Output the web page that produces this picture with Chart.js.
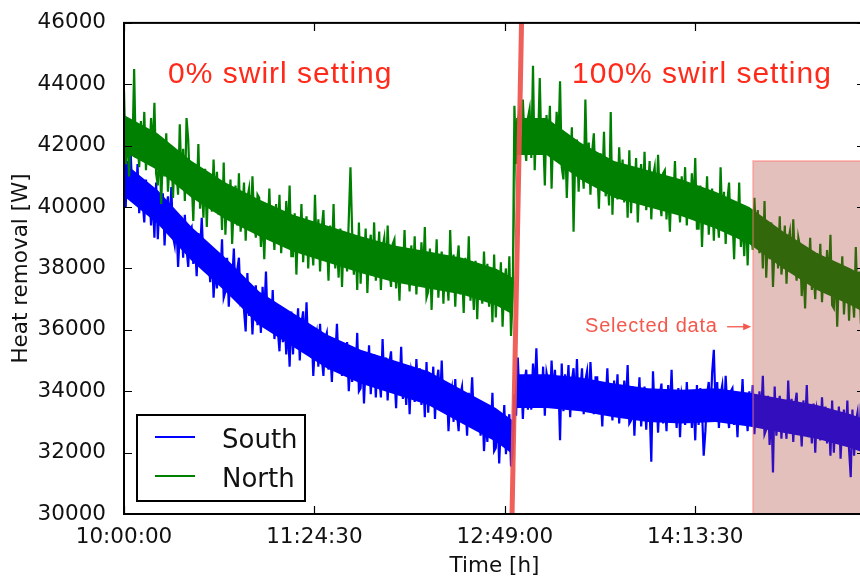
<!DOCTYPE html>
<html>
<head>
<meta charset="utf-8">
<script src="https://cdn.jsdelivr.net/npm/chart.js@4.4.1/dist/chart.umd.min.js"></script>
<style>
html, body { margin: 0; padding: 0; background: #fff; overflow: hidden; }
body { width: 860px; height: 583px; }
#wrap { width: 866px; height: 583px; }
</style>
</head>
<body>
<div id="wrap"><canvas id="chart" width="866" height="583"></canvas></div>
<script>
// seconds after 10:00:00, one sample every 45 s
var step = 45;
var tickStep = 5070;
var tickLabels = ["10:00:00", "11:24:30", "12:49:00", "14:13:30"];
var yTicks = [30000, 32000, 34000, 36000, 38000, 40000, 42000, 44000, 46000];

// heat removal [W], one row per 15 minutes
var south = [
    41100,40000,41500,40600,41700,40300,41000,40100,41400,39800,40500,40200,39500,40900,39800,40600,39400,40300,39000,40800,
    38950,40150,39450,40450,38750,39950,40350,39250,40650,39050,38750,39550,38050,39150,39450,38350,39750,38650,38050,39250,
    39350,38150,38850,37750,39150,38550,39650,38250,38750,37950,38450,37550,38650,37050,38050,37350,38450,37650,38950,37050,
    37250,38350,36750,38050,37550,38650,37050,37950,38350,36950,37150,36650,35950,37850,36450,37250,35850,37050,37450,36150,
    37000,35900,37400,36500,37900,36200,36900,36000,37300,35700,36300,36000,35300,36700,35600,36400,35200,36100,34800,36600,
    35200,36400,35700,36700,35000,36200,36600,35500,36900,35300,35200,36000,34500,35600,35900,34800,36200,35100,34500,35700,
    35900,34700,35400,34300,35700,35100,36200,34800,35300,34500,35400,34500,35600,34000,35000,34300,35400,34600,35900,34000,
    34100,35200,33600,34900,34400,35500,33900,34800,35200,33800,35000,34500,33800,35700,34300,35100,33700,34900,35300,34000,
    34550,33450,34950,34050,35450,33750,34450,33550,34850,33250,34650,34350,33650,35050,33950,34750,33550,34450,33150,34950,
    33300,34500,33800,34800,33100,34300,34700,33600,35000,33400,33400,34200,32700,33800,34100,33000,34400,33300,32700,33900,
    34150,32950,33650,32550,33950,33350,34450,33050,33550,32750,33450,32550,33650,32050,33050,32350,33450,32650,33950,32050,
    32150,33250,31650,32950,32450,33550,31950,32850,33250,31550,32000,
    33900,33200,35100,33700,34500,33100,34300,34700,33400,
    34500,33400,34900,34000,35400,33700,34400,33500,34800,33200,34600,34300,33600,35000,33900,34700,33500,34400,32400,34900,
    33350,34550,33850,34850,33150,34350,34750,33650,35050,33450,33950,34750,33250,34350,34650,33550,34950,33850,33250,34450,
    34450,33250,33950,32850,34250,33650,34750,33350,33850,33050,34350,33450,34550,32950,33950,33250,34350,33550,34850,32950,
    33050,34150,32550,33850,33350,34450,32850,33750,34150,32750,33950,33450,31700,34650,33250,34050,32650,33850,34250,32950,
    33800,32700,34200,33300,34700,33000,33700,32800,34100,32500,33900,33600,32900,34300,33200,34000,32800,33700,32400,34200,
    32900,34100,33400,31900,32700,33900,34300,33200,34600,35350,33500,34300,32800,33900,34200,33100,34500,33400,32800,34000,
    34100,32900,33600,32500,33900,33300,34400,33000,33500,32700,34000,33100,34200,32600,33600,32900,34000,33200,34500,32600,
    32750,33850,32250,33550,31350,34150,32550,33450,33850,32450,33650,33150,32450,34350,32950,33750,32350,33550,33950,32650,
    33300,32200,33700,32800,34200,32500,33200,32300,33600,32000,33400,33100,32400,33800,32700,33500,32300,33200,31900,33700,
    32000,33200,32500,33500,31800,33000,33400,32300,33700,32100,31200,33400,31900,33000,33300,32200,33600,32500,31900,33100
];

var north = [
    43800,41400,42400,41000,42700,41900,44500,41600,42200,41300,42800,41700,43100,41200,42300,41500,42900,41800,43400,41100,
    40700,42100,40100,41700,41000,42400,40500,41500,42000,40300,41800,41200,40400,42700,40900,41900,40200,42900,42200,40600,
    40950,39550,41350,40250,42050,39950,40750,39650,41250,39350,41050,40650,39850,41550,40150,41150,39750,40850,39250,41450,
    39100,40500,39700,40900,38800,40200,40700,39400,41100,39200,39800,40800,38900,40300,40600,39300,41000,39600,39000,40400,
    40300,38700,39700,38300,40000,39200,40600,38900,39500,38600,40100,39000,40400,38500,39600,38800,40200,39100,40700,38400,
    38400,39800,37800,39400,38700,40100,38200,39200,39700,38000,39500,38900,38100,40400,38600,39600,37900,39300,39900,38300,
    39000,37600,39400,38300,40100,38000,38800,37700,39300,37400,39100,38700,37900,39600,41300,39200,37800,38900,37300,39500,
    37500,38900,38100,39300,37200,38600,39100,37800,39500,37600,38200,39200,37300,38700,39000,37700,39400,38000,37400,38800,
    38950,37350,38350,36950,38650,37850,39250,37550,38150,37250,38750,37650,39050,37150,38250,37450,38850,37750,39350,37050,
    37250,38650,36650,38250,37550,38950,37050,38050,38550,36850,38350,37750,36950,39250,37450,38450,36750,38150,38750,37150,
    37950,36550,38350,37250,39050,36950,37750,36650,38250,36350,38050,37650,36850,38550,37150,38150,36750,37850,36250,38450,
    36400,37800,37000,38200,36100,37500,38000,36700,38400,35800,37100,
    43300,41400,42800,43100,41800,43500,42100,41500,42900,
    43200,41600,44600,41200,42900,42100,44200,41800,42400,40700,43000,41900,43300,40600,42500,41700,43100,42000,44100,41300,
    40900,42300,40300,41900,41200,42600,39200,41700,42200,40500,42000,41400,40600,43500,41100,42100,40400,41800,42400,40800,
    41350,39950,41750,40650,42450,40350,41150,40050,43100,39750,41450,41050,40250,41950,40550,41550,40150,41250,39650,41850,
    39800,41200,40400,41600,39500,40900,41400,40100,41800,39900,40500,41500,39600,41000,41300,40000,41700,40300,39700,41100,
    41200,39600,40600,39200,40900,40100,41500,39800,40400,39500,41000,39900,41300,39400,40500,39700,41100,40000,41600,39300,
    39300,40700,38700,40300,39600,41000,39100,40100,40600,38900,40400,39800,39000,41300,39500,40500,38800,40200,40800,39200,
    39700,38300,40100,39000,40800,38700,39500,38400,40000,38100,39800,39400,38600,40300,38900,39900,38500,39600,38000,40200,
    37700,39100,38300,39500,37400,38800,39300,38000,39700,37800,38400,39400,37500,38900,39200,37900,39600,38200,37600,39000,
    38700,37100,38100,36700,38400,37600,39000,37300,37900,37000,38500,37400,38800,36900,38000,37200,38600,37500,39100,36800,
    36700,38100,36100,37700,37000,38400,36500,37500,38000,36300,37800,37200,36400,38700,36900,37900,36200,37600,38200,36600
];

// dense core of each noisy trace, read every 900 s
var bandT  = [0, 900, 1800, 2700, 3600, 4500, 5400, 6300, 7200, 8100, 9000, 9900, 10350,
              10440, 11250, 12150, 13050, 13950, 14850, 15750, 16650, 17550, 18450, 19350, 19800];
var northHi = [43000, 42400, 41500, 40800, 40250, 39750, 39400, 39050, 38750, 38550, 38350, 38000, 37700,
               42900, 42900, 42100, 41500, 41200, 40900, 40500, 40000, 39200, 38500, 38000, 37700];
var northLo = [41800, 41200, 40300, 39600, 39050, 38550, 38200, 37850, 37550, 37350, 37150, 36800, 36500,
               41700, 41700, 40900, 40300, 40000, 39700, 39300, 38800, 38000, 37300, 36800, 36500];
var southHi = [41450, 40550, 39350, 38350, 37250, 36550, 35850, 35350, 35000, 34650, 34050, 33450, 33050,
               34550, 34550, 34450, 34250, 34100, 34050, 34100, 33950, 33750, 33550, 33250, 33050];
var southLo = [40350, 39450, 38250, 37250, 36150, 35450, 34750, 34250, 33900, 33550, 32950, 32350, 31950,
               33450, 33450, 33350, 33150, 33000, 32950, 33000, 32850, 32650, 32450, 32150, 31950];

// red marker of the swirl change (time, heat removal)
var switchT = [10585, 10332];
var switchW = [46000, 30000];

// selected data window
var selT = [16750, 16750, 19800, 19800];
var selW = [30000, 41500, 41500, 30000];

var notes = [
    { text: "0% swirl setting", t: 1172, w: 44040, size: 30, color: "#ff2a1a", spacing: 1 },
    { text: "100% swirl setting", t: 11930, w: 44040, size: 30, color: "#ff2a1a", spacing: 1 },
    { text: "Selected data", t: 12276, w: 35940, size: 20, color: "#f4574b", spacing: 0.8 }
];
var arrowT = [16058, 16700];
var arrowW = 36100;

function series(vals) {
    return vals.map(function(v, i) { return { x: i * step, y: v }; });
}
function pairs(ts, ws) {
    return ts.map(function(t, i) { return { x: t, y: ws[i] }; });
}

var frame = {
    id: 'frame',
    afterDatasetsDraw: function(chart) {
        var ctx = chart.ctx, a = chart.chartArea;
        var xs = chart.scales.x, ys = chart.scales.y;
        ctx.save();
        ctx.strokeStyle = '#000';
        ctx.lineWidth = 1.2;
        ctx.beginPath();
        xs.ticks.forEach(function(t) {
            var p = Math.round(xs.getPixelForValue(t.value)) + 0.5;
            ctx.moveTo(p, a.bottom); ctx.lineTo(p, a.bottom - 8);
            ctx.moveTo(p, a.top); ctx.lineTo(p, a.top + 8);
        });
        ys.ticks.forEach(function(t) {
            var p = Math.round(ys.getPixelForValue(t.value)) + 0.5;
            ctx.moveTo(a.left, p); ctx.lineTo(a.left + 8, p);
            ctx.moveTo(a.right, p); ctx.lineTo(a.right - 8, p);
        });
        ctx.stroke();
        ctx.lineWidth = 2;
        ctx.strokeRect(a.left, a.top, a.right - a.left, a.bottom - a.top);

        // annotations
        notes.forEach(function(n) {
            ctx.font = n.size + 'px "Liberation Sans", Arial, sans-serif';
            ctx.letterSpacing = n.spacing + 'px';
            ctx.fillStyle = n.color;
            ctx.textBaseline = 'alphabetic';
            ctx.textAlign = 'left';
            ctx.fillText(n.text, xs.getPixelForValue(n.t), ys.getPixelForValue(n.w));
        });
        ctx.letterSpacing = '0px';
        var x1 = xs.getPixelForValue(arrowT[0]), x2 = xs.getPixelForValue(arrowT[1]);
        var ay = ys.getPixelForValue(arrowW);
        ctx.strokeStyle = '#f4574b';
        ctx.fillStyle = '#f4574b';
        ctx.lineWidth = 1.3;
        ctx.beginPath();
        ctx.moveTo(x1, ay); ctx.lineTo(x2 - 6, ay);
        ctx.stroke();
        ctx.beginPath();
        ctx.moveTo(x2, ay); ctx.lineTo(x2 - 8, ay - 3.5); ctx.lineTo(x2 - 8, ay + 3.5);
        ctx.closePath();
        ctx.fill();
        ctx.restore();
    }
};

var legendBox = {
    id: 'legendBox',
    afterDraw: function(chart) {
        var ctx = chart.ctx, a = chart.chartArea;
        var x0 = a.left + 13, y0 = 415, w = 168, h = a.bottom - 13 - 415;
        ctx.save();
        ctx.fillStyle = '#fff';
        ctx.fillRect(x0, y0, w, h);
        ctx.strokeStyle = '#000';
        ctx.lineWidth = 2;
        ctx.strokeRect(x0, y0, w, h);
        var items = [chart.data.datasets[0], chart.data.datasets[1]];
        ctx.font = '26px "DejaVu Sans", sans-serif';
        ctx.textBaseline = 'alphabetic';
        items.forEach(function(ds, i) {
            var ly = y0 + 22 + i * 39;
            ctx.strokeStyle = ds.borderColor;
            ctx.lineWidth = 2;
            ctx.beginPath();
            ctx.moveTo(x0 + 18, ly); ctx.lineTo(x0 + 58, ly);
            ctx.stroke();
            ctx.fillStyle = '#111';
            ctx.fillText(ds.label, x0 + 85, ly + 11);
        });
        ctx.restore();
    }
};

var tickFont = { family: '"DejaVu Sans", sans-serif', size: 21.5 };

function band(vals, color, fillTo, order) {
    return {
        data: pairs(bandT, vals),
        borderWidth: 0,
        borderColor: color,
        backgroundColor: color,
        fill: fillTo,
        pointRadius: 0,
        order: order
    };
}

var ctx = document.getElementById('chart').getContext('2d');
var myChart = new Chart(ctx, {
    type: 'line',
    data: {
        datasets: [{
            label: 'South',
            data: series(south),
            borderColor: '#0000ff',
            borderWidth: 2.2,
            pointRadius: 0,
            order: 5
        }, {
            label: 'North',
            data: series(north),
            borderColor: '#008000',
            borderWidth: 2.2,
            pointRadius: 0,
            order: 3
        }, {
            label: 'switch',
            data: pairs(switchT, switchW),
            borderColor: 'rgba(238,82,76,0.92)',
            borderWidth: 5,
            pointRadius: 0,
            order: 1
        }, {
            label: 'selection',
            data: pairs(selT, selW),
            borderColor: 'rgba(255,120,110,0.45)',
            borderWidth: 2,
            backgroundColor: 'rgba(165,45,38,0.3)',
            fill: 'start',
            pointRadius: 0,
            order: 0
        },
        band(southHi, '#0000ff', '+1', 6),
        band(southLo, '#0000ff', false, 6),
        band(northHi, '#008000', '+1', 4),
        band(northLo, '#008000', false, 4)
        ]
    },
    options: {
        responsive: false,
        animation: false,
        layout: { padding: { top: 17, right: 1, left: 0, bottom: 0 } },
        scales: {
            x: {
                type: 'linear',
                min: 0,
                max: 19730,
                grid: { display: false },
                border: { display: false },
                afterFit: function(s) { s.height = 69; },
                afterBuildTicks: function(s) {
                    s.ticks = tickLabels.map(function(l, i) { return { value: i * tickStep }; });
                },
                ticks: {
                    autoSkip: false,
                    maxRotation: 0,
                    padding: 3,
                    color: '#111',
                    font: tickFont,
                    callback: function(value, index) { return tickLabels[index]; }
                },
                title: {
                    display: true,
                    text: 'Time [h]',
                    color: '#111',
                    font: tickFont,
                    padding: { top: 0, bottom: 4 }
                }
            },
            y: {
                min: 30000,
                max: 46000,
                grid: { display: false },
                border: { display: false },
                afterFit: function(s) { s.width = 124; },
                afterBuildTicks: function(s) {
                    s.ticks = yTicks.map(function(v) { return { value: v }; });
                },
                ticks: {
                    padding: 10,
                    color: '#111',
                    font: tickFont,
                    callback: function(value) { return String(value); }
                },
                title: {
                    display: true,
                    text: 'Heat removal [W]',
                    color: '#111',
                    font: tickFont,
                    padding: { top: 9, bottom: 0 }
                }
            }
        },
        plugins: {
            legend: { display: false },
            tooltip: { enabled: false }
        }
    },
    plugins: [frame, legendBox]
});
</script>
</body>
</html>
